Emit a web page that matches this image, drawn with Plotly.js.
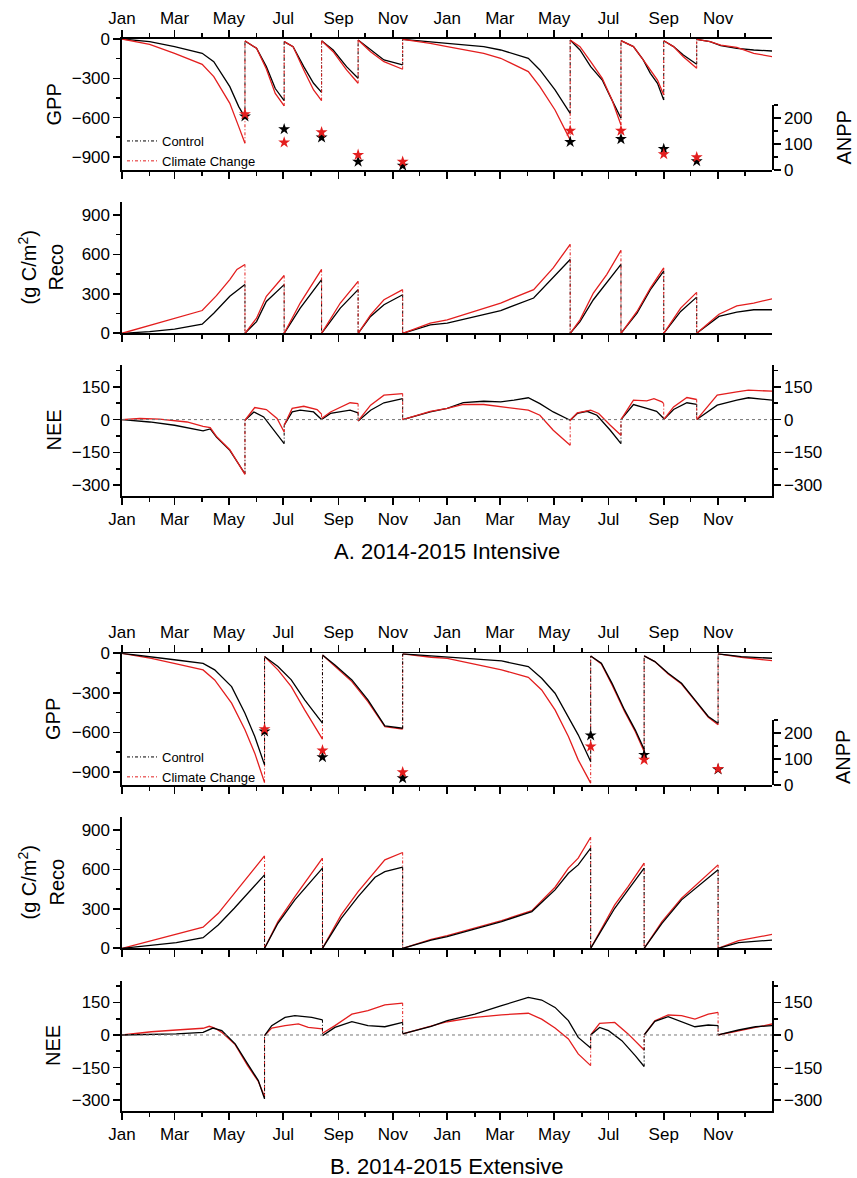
<!DOCTYPE html>
<html><head><meta charset="utf-8">
<script src="https://cdn.plot.ly/plotly-3.0.1.min.js"></script>
<style>html,body{margin:0;padding:0;background:#fff}#chart{width:857px;height:1178px}</style>
</head><body><div id="chart"></div>
<script>
// ---------- DATA (days counted from 2014-01-01; a repeated day = harvest reset) ----------
const seriesNames = ['Control', 'Climate Change'];

// A. 2014-2015 Intensive
const A_harvestDays = [138,182,224,265,315,503,560,608,645];
const A_ANPP_ctrl = [206,157,125,32,17,108,119,81,34];
const A_ANPP_cc   = [215,106,145,58,32,151,151,61,49];

const A_GPP_ctrl_days = [0,31,59,90,103,121,131,138, 138,151,162,172,182, 182,192,204,215,224, 224,237,252,265, 265,279,294,315, 315,346,365,406,425,456,469,486,503, 503,514,526,539,548,560, 560,574,585,593,601,608, 608,619,630,645, 645,660,672,690,709,730];
const A_GPP_ctrl = [0,-20,-58,-109,-173,-364,-516,-598, -15,-71,-211,-378,-470, -20,-58,-211,-338,-407, -13,-84,-211,-300, -8,-84,-160,-198, -3,-25,-33,-58,-84,-147,-236,-389,-567, -8,-84,-211,-313,-440,-605, -13,-58,-160,-262,-338,-465, -13,-58,-122,-193, -3,-20,-51,-71,-84,-92];
const A_GPP_cc_days = [0,31,59,90,103,121,131,138, 138,151,162,172,182, 182,192,204,215,224, 224,237,252,265, 265,279,294,315, 315,346,365,406,425,456,469,486,503, 503,514,526,539,550,560, 560,574,585,593,601,608, 608,619,630,645, 645,660,672,690,709,730];
const A_GPP_cc = [0,-41,-109,-193,-287,-491,-669,-796, -13,-71,-229,-415,-511, -20,-58,-236,-389,-470, -13,-97,-236,-338, -8,-97,-173,-231, -3,-33,-58,-109,-147,-249,-364,-542,-770, -8,-58,-173,-300,-465,-656, -13,-58,-160,-236,-313,-427, -13,-58,-135,-224, -3,-20,-46,-64,-109,-135];

const A_Reco_ctrl_days = [0,31,59,90,103,121,138, 138,151,162,182, 182,200,224, 224,245,265, 265,279,294,315, 315,346,365,425,462,484,503, 503,514,529,544,560, 560,578,593,608, 608,627,645, 645,670,690,709,730];
const A_Reco_ctrl = [0,13,31,69,153,281,370, 0,89,242,370, 0,191,408, 0,191,332, 0,128,217,293, 0,64,77,173,268,421,561, 0,89,255,383,523, 0,153,332,472, 0,166,275, 0,128,161,179,179];
const A_Reco_cc_days = [0,90,106,121,129,138, 138,151,162,182, 182,200,224, 224,245,265, 265,279,294,315, 315,346,365,425,462,484,503, 503,514,529,544,560, 560,578,593,608, 608,627,645, 645,670,690,709,730];
const A_Reco_cc = [0,173,286,408,485,523, 0,115,281,439, 0,230,485, 0,230,395, 0,140,255,332, 0,77,102,230,332,497,676, 0,102,306,446,630, 0,166,344,497, 0,191,311, 0,145,209,230,263];

const A_NEE_ctrl_days = [0,31,59,91,99,106,121,138, 138,148,159,170,182, 182,191,200,215,224, 224,234,256,265, 265,279,294,315, 315,346,365,383,406,425,440,456,469,484,503, 503,511,522,533,548,560, 560,574,589,600,608, 608,619,634,645, 645,668,690,703,730];
const A_NEE_ctrl = [0,-11,-26,-52,-43,-80,-141,-248, -3,35,12,-49,-110, -26,35,43,35,0, 0,28,43,31, -6,43,77,96, 0,35,51,78,84,81,89,100,73,35,-3, -3,28,38,20,-49,-110, 0,69,51,38,5, 0,46,77,70, 0,66,89,100,89];
const A_NEE_cc_days = [0,20,42,73,91,99,106,121,138, 138,149,162,174,182, 182,191,204,219,224, 224,234,256,265, 265,279,294,315, 315,346,365,383,406,425,440,456,469,484,503, 503,511,526,535,548,560, 560,574,589,597,606,608, 608,619,634,645, 645,668,690,703,730];
const A_NEE_cc = [0,5,2,-11,-31,-37,-77,-138,-251, -3,55,46,5,-57, -26,51,61,46,25, 5,35,77,73, -6,66,112,119, 0,38,51,70,69,58,51,43,20,-49,-118, -3,31,43,28,-26,-72, 0,89,86,96,81,73, 0,58,101,92, 0,112,127,135,130];

// B. 2014-2015 Extensive
const B_harvestDays = [160,225,315,526,586,669];
const B_ANPP_ctrl = [206,107,26,191,116,60];
const B_ANPP_cc   = [215,133,49,148,97,62];

const B_GPP_days = [0,33,61,91,104,123,138,149,160, 160,175,190,205,225, 225,239,258,276,295,315, 315,347,365,426,456,471,486,501,512,526, 526,538,550,564,576,586, 586,598,613,628,643,658,669, 669,695,730];
const B_GPP_ctrl = [0,-25,-51,-76,-126,-253,-455,-632,-847, -25,-101,-202,-354,-531, -13,-88,-202,-354,-551,-569, -5,-20,-25,-58,-101,-190,-303,-480,-619,-822, -20,-76,-228,-430,-581,-728, -20,-63,-152,-228,-354,-480,-531, -5,-25,-38];
const B_GPP_cc = [0,-38,-81,-126,-202,-379,-581,-758,-981, -25,-126,-253,-430,-652, -13,-96,-215,-367,-556,-576, -5,-30,-38,-126,-182,-278,-430,-632,-809,-986, -20,-81,-240,-442,-594,-746, -20,-63,-157,-233,-359,-485,-543, -5,-30,-56];

const B_Reco_ctrl_days = [0,61,91,108,126,145,160, 160,175,194,225, 225,246,265,284,295,315, 315,347,365,426,460,486,501,512,526, 526,538,553,568,586, 586,606,628,651,669, 669,692,730];
const B_Reco_ctrl = [0,43,81,177,304,444,558, 0,190,368,609, 0,228,393,540,583,616, 0,63,89,203,279,444,570,634,761, 0,139,304,444,609, 0,190,368,494,596, 0,43,63];
const B_Reco_cc_days = [0,91,108,126,145,160, 160,175,194,225, 225,246,265,284,295,315, 315,347,365,426,460,486,501,512,526, 526,538,553,568,586, 586,606,628,651,669, 669,692,730];
const B_Reco_cc = [0,160,266,418,583,702, 0,203,393,685, 0,254,431,583,672,728, 0,68,96,210,286,464,609,685,844, 0,152,330,469,647, 0,203,380,520,634, 0,58,106];

const B_NEE_ctrl_days = [0,61,91,102,112,127,141,153,160, 160,168,183,194,213,225, 225,239,258,276,295,315, 315,347,365,396,426,456,471,486,501,512,526, 526,536,546,561,576,586, 586,598,613,624,643,658,669, 669,692,711,730];
const B_NEE_ctrl = [0,5,12,32,20,-41,-133,-210,-294, -3,43,81,89,81,70, -3,35,61,43,38,58, 5,40,66,96,135,173,161,127,66,-11,-60, 0,35,20,-26,-95,-145, 0,63,84,66,38,46,43, 0,23,38,43];
const B_NEE_cc_days = [0,33,61,91,98,104,112,127,141,153,160, 160,168,183,198,209,225, 225,239,258,276,295,315, 315,347,365,396,426,456,471,486,501,512,526, 526,536,553,568,586, 586,598,613,628,643,658,669, 669,692,711,730];
const B_NEE_cc = [0,15,23,31,40,32,12,-44,-141,-214,-283, -3,32,43,51,35,28, 8,43,96,112,139,147, 5,40,61,81,93,100,73,32,-18,-87,-141, 0,54,58,5,-69, 0,66,92,89,73,96,104, 0,20,35,51];

// ---------- BUILD ----------
const FONT = 'Liberation Sans, Arial, Helvetica, sans-serif';
const BLACK = '#000000', RED = '#e31e1e';
const H = 1178;
const T0 = Date.UTC(2014,0,1);
function d2s(d){ return new Date(T0 + d*86400000).toISOString().slice(0,10); }
function dom(top, bot){ return [1 - bot/H, 1 - top/H]; }

function lineTraces(days, vals, color, name, xa, ya, legendId){
  const sx=[], sy=[], cx=[], cy=[];
  for(let i=0;i<days.length;i++){
    if(i>0 && days[i]===days[i-1]){
      sx.push(null); sy.push(null);
      cx.push(d2s(days[i]), d2s(days[i]), null);
      cy.push(vals[i-1], vals[i], null);
    }
    sx.push(d2s(days[i])); sy.push(vals[i]);
  }
  return [
    {type:'scatter', mode:'lines', x:sx, y:sy, xaxis:xa, yaxis:ya, name:name, showlegend:false,
     line:{color:color, width:1.3}, hoverinfo:'skip'},
    {type:'scatter', mode:'lines', x:cx, y:cy, xaxis:xa, yaxis:ya, name:name,
     showlegend: !!legendId, legend: legendId || 'legend',
     line:{color:color, width:1, dash:'3px,2px,1px,2px'}, hoverinfo:'skip'}
  ];
}
function stars(days, vals, color, xa, ya){
  return {type:'scatter', mode:'markers', x:days.map(d2s), y:vals, xaxis:xa, yaxis:ya, showlegend:false,
    marker:{symbol:'star', size:9, color:color, line:{width:0}}, cliponaxis:false, hoverinfo:'skip'};
}

const traces = [];
// A panel (red on top)
traces.push(...lineTraces(A_GPP_ctrl_days, A_GPP_ctrl, BLACK, seriesNames[0], 'x', 'y', 'legend'));
traces.push(...lineTraces(A_GPP_cc_days, A_GPP_cc, RED, seriesNames[1], 'x', 'y', 'legend'));
traces.push(stars(A_harvestDays, A_ANPP_ctrl, BLACK, 'x', 'y2'));
traces.push(stars(A_harvestDays, A_ANPP_cc, RED, 'x', 'y2'));
traces.push(...lineTraces(A_Reco_ctrl_days, A_Reco_ctrl, BLACK, seriesNames[0], 'x2', 'y3'));
traces.push(...lineTraces(A_Reco_cc_days, A_Reco_cc, RED, seriesNames[1], 'x2', 'y3'));
traces.push(...lineTraces(A_NEE_ctrl_days, A_NEE_ctrl, BLACK, seriesNames[0], 'x3', 'y4'));
traces.push(...lineTraces(A_NEE_cc_days, A_NEE_cc, RED, seriesNames[1], 'x3', 'y4'));
traces.push({type:'scatter', mode:'lines', x:[], y:[], xaxis:'x3', yaxis:'y5', showlegend:false, hoverinfo:'skip'});
// B panel (black on top)
traces.push(...lineTraces(B_GPP_days, B_GPP_cc, RED, seriesNames[1], 'x4', 'y6', 'legend2'));
traces.push(...lineTraces(B_GPP_days, B_GPP_ctrl, BLACK, seriesNames[0], 'x4', 'y6', 'legend2'));
traces.push(stars(B_harvestDays, B_ANPP_ctrl, BLACK, 'x4', 'y7'));
traces.push(stars(B_harvestDays, B_ANPP_cc, RED, 'x4', 'y7'));
traces.push(...lineTraces(B_Reco_cc_days, B_Reco_cc, RED, seriesNames[1], 'x5', 'y8'));
traces.push(...lineTraces(B_Reco_ctrl_days, B_Reco_ctrl, BLACK, seriesNames[0], 'x5', 'y8'));
traces.push(...lineTraces(B_NEE_cc_days, B_NEE_cc, RED, seriesNames[1], 'x6', 'y9'));
traces.push(...lineTraces(B_NEE_ctrl_days, B_NEE_ctrl, BLACK, seriesNames[0], 'x6', 'y9'));
traces.push({type:'scatter', mode:'lines', x:[], y:[], xaxis:'x6', yaxis:'y10', showlegend:false, hoverinfo:'skip'});

const tickfont = {family:FONT, size:17, color:'#000'};
const axCommon = {showgrid:false, zeroline:false, showline:true, linecolor:'#000', linewidth:1.6,
  ticks:'outside', ticklen:7, tickwidth:1.6, tickcolor:'#000', tickfont:tickfont, fixedrange:true};
const X_END = '2015-12-31 12:00';
function xax(anchor, side, labels, mirror){
  return Object.assign({}, axCommon, {type:'date', range:[d2s(0), X_END], tick0:d2s(0), dtick:'M2',
    tickformat:'%b', anchor:anchor, side:side, showticklabels:labels, mirror:mirror,
    minor:{dtick:'M1', tick0:d2s(0), ticks:'outside', ticklen:4, tickwidth:1.6, tickcolor:'#000', showgrid:false}});
}
function yax(domain, range, dtick, minor, anchor, side, extra){
  return Object.assign({}, axCommon, {domain:domain, range:range, tick0:0, dtick:dtick, anchor:anchor, side:side,
    minor:{dtick:minor, tick0:0, ticks:'outside', ticklen:4, tickwidth:1.6, tickcolor:'#000', showgrid:false}}, extra||{});
}

const A_gpp = dom(39,170), A_anpp = dom(105,170), A_reco = dom(201.7,333.3), A_nee = dom(365,496);
const B_gpp = dom(653.3,785), B_anpp = dom(720,785), B_reco = dom(816.7,948.3), B_nee = dom(980.7,1111);

function ann(text, xpx, ypx, size, angle){
  return {text:text, xref:'paper', yref:'paper', x:(xpx-122)/650, y:1-ypx/H, xanchor:'center', yanchor:'middle',
    showarrow:false, textangle:angle||0, font:{family:FONT, size:size, color:'#000'}};
}
function zeroLine(xa, ya){
  return {type:'line', xref:xa+' domain', x0:0, x1:1, yref:ya, y0:0, y1:0, line:{color:'#777', width:1, dash:'dot'}};
}

const legendCommon = {bgcolor:'rgba(0,0,0,0)', borderwidth:0, font:{family:FONT, size:13, color:'#000'},
  itemwidth:30, tracegroupgap:0, xanchor:'left', yanchor:'top'};

const layout = {
  width:857, height:1178, paper_bgcolor:'#fff', plot_bgcolor:'rgba(0,0,0,0)',
  margin:{l:122, r:85, t:0, b:0}, font:{family:FONT, color:'#000'}, hovermode:false,
  xaxis: xax('y','top',true,'ticks'),
  yaxis: yax(A_gpp,[-1000,0],300,150,'x','left'),
  yaxis2: yax(A_anpp,[0,250],100,50,'x','right'),
  xaxis2: xax('y3','bottom',false,false),
  yaxis3: yax(A_reco,[0,1000],300,150,'x2','left'),
  xaxis3: xax('y4','bottom',true,false),
  yaxis4: yax(A_nee,[-350,250],150,75,'x3','left'),
  yaxis5: yax(A_nee,[-350,250],150,75,'x3','right',{overlaying:'y4'}),
  xaxis4: xax('y6','top',true,'ticks'),
  yaxis6: yax(B_gpp,[-1000,0],300,150,'x4','left'),
  yaxis7: yax(B_anpp,[0,250],100,50,'x4','right'),
  xaxis5: xax('y8','bottom',false,false),
  yaxis8: yax(B_reco,[0,1000],300,150,'x5','left'),
  xaxis6: xax('y9','bottom',true,false),
  yaxis9: yax(B_nee,[-350,250],150,75,'x6','left'),
  yaxis10: yax(B_nee,[-350,250],150,75,'x6','right',{overlaying:'y9'}),
  legend: Object.assign({x:0.0, y:1-126/H, traceorder:'normal'}, legendCommon),
  legend2: Object.assign({x:0.0, y:1-742/H, traceorder:'reversed'}, legendCommon),
  shapes:[zeroLine('x3','y4'), zeroLine('x6','y9')],
  annotations:[
    ann('GPP',53,104.5,20,-90),
    ann('ANPP',843,137.5,20,-90),
    ann('(g C/m<sup>2</sup>)',27,267.5,20,-90),
    ann('Reco',56,267.5,20,-90),
    ann('NEE',53,430.5,20,-90),
    ann('A. 2014-2015 Intensive',447,551.5,22,0),
    ann('GPP',53,719,20,-90),
    ann('ANPP',843,757,20,-90),
    ann('(g C/m<sup>2</sup>)',27,882.5,20,-90),
    ann('Reco',56,882.5,20,-90),
    ann('NEE',53,1046,20,-90),
    ann('B. 2014-2015 Extensive',447,1166.5,22,0)
  ]
};

Plotly.newPlot('chart', traces, layout, {staticPlot:true, displayModeBar:false});
</script>
</body></html>
